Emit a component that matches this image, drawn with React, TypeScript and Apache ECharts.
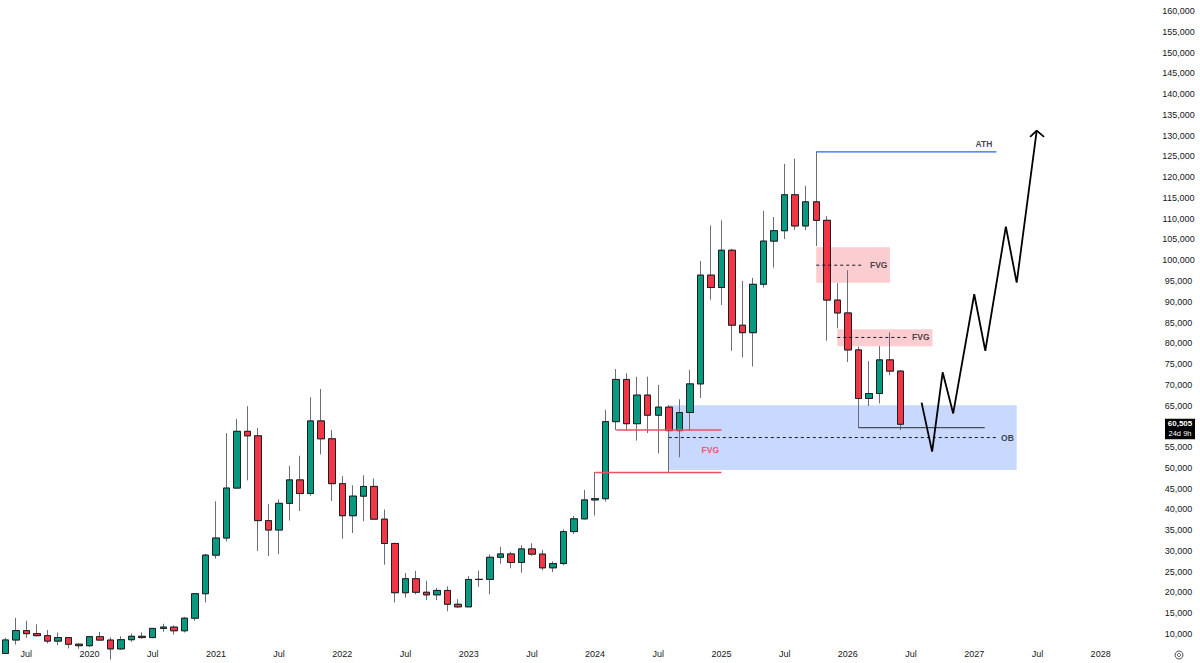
import React, { useEffect, useRef } from "react";
import * as echarts from "echarts";

// ---------- categories (monthly candles) ----------
const START_YEAR = 2019;
const START_MONTH = 5;
const MONTH_COUNT = 108;
const categories: string[] = Array.from({ length: MONTH_COUNT }, (_, i) => {
  const m = START_MONTH - 1 + i;
  const y = START_YEAR + Math.floor(m / 12);
  const mm = (m % 12) + 1;
  return `${y}-${String(mm).padStart(2, "0")}`;
});

// ---------- OHLC (May 2019 .. Jun 2026) ----------
const opens = [
  5320, 8560, 10820, 10080, 9600, 8290, 9150, 7540,
  7190, 9350, 8540, 6420, 8630, 9450, 9140, 11350, 11660, 10780, 13800, 19700,
  28990, 33110, 45140, 58800, 57720, 37300, 35040, 41460, 47100, 43820, 61300, 57000,
  46200, 38480, 43190, 45530, 37650, 31800, 19940, 23310, 20050, 19430, 20490, 17160,
  16540, 23130, 23150, 28470, 29270, 27220, 30480, 29230, 25940, 26960, 34660, 37720,
  42280, 42580, 61130, 71290, 60640, 67520, 62680, 64620, 58970, 63330, 70220, 96400,
  93430, 102400, 84350, 82550, 94200, 104600, 107100, 115750, 108250, 114050, 109600, 90400,
  87300, 78400, 66700, 67900, 76000, 73300,
];
const highs = [
  9090, 13880, 13200, 12330, 10950, 10370, 9270, 7740,
  9580, 10500, 9190, 9470, 10070, 10380, 11440, 12470, 12070, 14100, 19860, 29300,
  41950, 58350, 61790, 64850, 59600, 41330, 42410, 50500, 52920, 67000, 69000, 59100,
  47990, 45800, 48200, 47450, 39980, 31980, 24670, 25200, 22800, 21100, 21480, 18400,
  23950, 25250, 29190, 31000, 29830, 31400, 31850, 30200, 27480, 35200, 38420, 44700,
  48970, 64000, 73800, 72800, 71950, 71950, 70000, 65100, 66500, 73620, 99800, 108350,
  109600, 102750, 95000, 95750, 111900, 110400, 123200, 124450, 117900, 126200, 110600, 94500,
  97600, 79200, 75700, 79300, 82600, 73500,
];
const lows = [
  5300, 7450, 9070, 9400, 7730, 7300, 6520, 6430,
  6850, 8450, 3850, 6150, 8120, 8830, 8980, 10520, 9880, 10380, 13200, 17600,
  28130, 32300, 44950, 47000, 30000, 28800, 29280, 37330, 39600, 43280, 53250, 42000,
  32950, 34300, 37150, 37580, 26700, 17600, 18780, 19550, 18150, 18180, 15480, 16250,
  16500, 21350, 19550, 26950, 25810, 24750, 28860, 25330, 24900, 26540, 34100, 37600,
  38500, 41880, 59100, 59100, 56550, 58400, 53500, 49000, 52550, 58900, 66800, 90500,
  89200, 78200, 76600, 74400, 93400, 98200, 105100, 107300, 107270, 103400, 80600, 83600,
  75500, 59700, 64900, 65500, 72300, 59100,
];
const closes = [
  8560, 10820, 10080, 9600, 8290, 9150, 7540, 7190,
  9350, 8540, 6420, 8630, 9450, 9140, 11350, 11660, 10780, 13800, 19700, 28990,
  33110, 45140, 58800, 57720, 37300, 35040, 41460, 47100, 43820, 61300, 57000, 46200,
  38480, 43190, 45530, 37650, 31800, 19940, 23310, 20050, 19430, 20490, 17160, 16540,
  23130, 23150, 28470, 29270, 27220, 30480, 29230, 25940, 26960, 34660, 37720, 42280,
  42580, 61130, 71290, 60640, 67520, 62680, 64620, 58970, 63330, 70220, 96400, 93430,
  102400, 84350, 82550, 94200, 104600, 107100, 115750, 108250, 114050, 109600, 90400, 87300,
  78400, 66700, 67900, 76000, 73300, 60505,
];
const lastPrice = 60505;
const countdown = "24d 9h";

// ---------- annotations (month index, price) ----------
const obZone = [63, 96.03, 49500, 65100];
const fvgZones = [
  [77, 84, 94550, 103100],
  [79, 88.03, 79300, 83400],
];
const athLine = [[77, 126100], [94.1, 126100]];
const fvgMid1 = [[77, 98800], [81.5, 98800]];
const fvgMid2 = [[79, 81400], [85.8, 81400]];
const obMid = [[63, 57300], [94.1, 57300]];
const redUpper = [[58, 59100], [68, 59100]];
const redLower = [[56, 48900], [68, 48900]];
const supportLine = [[81, 59700], [93, 59700]];
const projection = [
  [87, 65700], [88, 53900], [89, 73000], [90, 63100], [92, 91800],
  [93.05, 78200], [95, 108100], [96.03, 94600], [97.93, 131200],
];
const arrowHead = [[97.3, 129700], [97.93, 131200], [98.63, 129700]];
const darkLabels = [
  { x: 93.72, y: 127900, text: "ATH", align: "right" },
  { x: 82.1, y: 98800, text: "FVG", align: "left" },
  { x: 86.1, y: 81400, text: "FVG", align: "left" },
  { x: 94.55, y: 57300, text: "OB", align: "left" },
];
const redLabels = [{ x: 66.94, y: 54300, text: "FVG", align: "center" }];

const FONT = "'Liberation Sans', Arial, sans-serif";
const TXT = "#131722";

function lineSeries(data: number[][], color: string, width: number, type: any = "solid", z = 6) {
  return {
    type: "line",
    xAxisIndex: 1,
    yAxisIndex: 0,
    data,
    symbol: "none",
    silent: true,
    animation: false,
    z,
    lineStyle: { color, width, type },
  };
}

function labelSeries(items: any[], color: string) {
  return {
    type: "scatter",
    xAxisIndex: 1,
    yAxisIndex: 0,
    symbolSize: 0,
    silent: true,
    z: 8,
    data: items.map((d) => ({
      value: [d.x, d.y],
      label: {
        show: true,
        formatter: d.text,
        position: [0, 0],
        align: d.align,
        verticalAlign: "middle",
        color,
        fontSize: 8.5,
        fontWeight: "bold",
        fontFamily: FONT,
      },
    })),
  };
}

function zoneSeries(data: number[][], fill: string) {
  return {
    type: "custom",
    xAxisIndex: 1,
    yAxisIndex: 0,
    silent: true,
    z: 1,
    clip: true,
    encode: { x: [0, 1], y: [2, 3] },
    data,
    renderItem: (_params: any, api: any) => {
      const p0 = api.coord([api.value(0), api.value(3)]);
      const p1 = api.coord([api.value(1), api.value(2)]);
      return {
        type: "rect",
        shape: { x: p0[0], y: p0[1], width: p1[0] - p0[0], height: p1[1] - p0[1] },
        style: { fill },
      };
    },
  };
}

export default function App() {
  const ref = useRef<HTMLDivElement>(null);
  useEffect(() => {
    if (!ref.current) return;
    const chart = echarts.init(ref.current, undefined, { renderer: "svg" });
    const wickData = opens.map((o, i) => [o, closes[i], lows[i], highs[i]]);
    const bodyData = opens.map((o, i) => [o, closes[i], Math.min(o, closes[i]), Math.max(o, closes[i])]);
    const option: any = {
      animation: false,
      backgroundColor: "#ffffff",
      grid: { left: -0.77, right: 62.5, top: 0, bottom: 17, containLabel: false },
      xAxis: [
        {
          type: "category",
          data: categories,
          boundaryGap: true,
          axisLine: { show: false },
          axisTick: { show: false },
          splitLine: { show: false },
          axisLabel: {
            interval: 0,
            hideOverlap: false,
            margin: 3,
            fontSize: 9,
            color: TXT,
            fontFamily: FONT,
            formatter: (v: string) => {
              const [y, m] = v.split("-");
              if (m === "01") return y;
              if (m === "07") return "Jul";
              return "";
            },
          },
        },
        {
          type: "value",
          min: -0.5,
          max: MONTH_COUNT - 0.5,
          show: false,
          splitLine: { show: false },
        },
      ],
      yAxis: [
        {
          type: "value",
          position: "right",
          min: 7111,
          max: 162650,
          splitNumber: 31,
          minInterval: 5000,
          maxInterval: 5000,
          axisLine: { show: false },
          axisTick: { show: false },
          splitLine: { show: false },
          axisLabel: {
            align: "center",
            margin: 41,
            fontSize: 9,
            color: TXT,
            fontFamily: FONT,
            formatter: (v: number) =>
              v % 5000 === 0 && Math.abs(v - lastPrice) > 3000 ? v.toLocaleString("en-US") : "",
          },
        },
      ],
      series: [
        zoneSeries([obZone], "rgba(41,98,255,0.25)"),
        zoneSeries(fvgZones, "rgba(242,54,69,0.25)"),
        {
          type: "candlestick",
          xAxisIndex: 0,
          yAxisIndex: 0,
          data: wickData,
          barWidth: 7,
          silent: true,
          z: 3,
          itemStyle: {
            color: "#6a6d78",
            color0: "#6a6d78",
            borderColor: "#6a6d78",
            borderColor0: "#6a6d78",
            borderWidth: 1,
          },
        },
        {
          type: "candlestick",
          xAxisIndex: 0,
          yAxisIndex: 0,
          data: bodyData,
          barWidth: 7,
          silent: true,
          z: 4,
          itemStyle: {
            color: "#089981",
            color0: "#f23645",
            borderColor: "#1e2022",
            borderColor0: "#1e2022",
            borderWidth: 1,
          },
        },
        lineSeries(athLine, "#2962ff", 1.2),
        lineSeries(fvgMid1, "#131722", 1, [3, 3]),
        lineSeries(fvgMid2, "#131722", 1, [3, 3]),
        lineSeries(obMid, "#131722", 1, [3, 3]),
        lineSeries(redUpper, "#f0505e", 1.5),
        lineSeries(redLower, "#f0505e", 1.5),
        lineSeries(supportLine, "#4a4d57", 1.1),
        lineSeries(projection, "#000000", 1.8, "solid", 7),
        lineSeries(arrowHead, "#000000", 1.8, "solid", 7),
        labelSeries(darkLabels, TXT),
        labelSeries(redLabels, "#f23645"),
      ],
    };
    chart.setOption(option);
    const py = chart.convertToPixel({ yAxisIndex: 0 }, lastPrice) as number;
    chart.setOption({
      graphic: [
        {
          type: "rect",
          shape: { x: 1165, y: py - 5.5, width: 30, height: 20.5 },
          style: { fill: "#000000" },
          z: 20,
        },
        {
          type: "text",
          x: 1180,
          y: py - 0.5,
          z: 21,
          style: {
            text: lastPrice.toLocaleString("en-US"),
            fill: "#ffffff",
            fontSize: 8,
            fontWeight: "bold",
            fontFamily: FONT,
            align: "center",
            verticalAlign: "middle",
          },
        },
        {
          type: "text",
          x: 1180,
          y: py + 9.5,
          z: 21,
          style: {
            text: countdown,
            fill: "#ffffff",
            fontSize: 7.5,
            fontFamily: FONT,
            align: "center",
            verticalAlign: "middle",
          },
        },
        {
          type: "circle",
          shape: { cx: 1179, cy: 655, r: 4 },
          style: { fill: "none", stroke: "#50535e", lineWidth: 1 },
        },
        {
          type: "circle",
          shape: { cx: 1179, cy: 655, r: 1.6 },
          style: { fill: "none", stroke: "#50535e", lineWidth: 1 },
        },
      ],
    });
    return () => chart.dispose();
  }, []);
  return (
    <div
      ref={ref}
      style={{ position: "absolute", left: 0, top: 0, width: 1200, height: 663, background: "#fff" }}
    />
  );
}
